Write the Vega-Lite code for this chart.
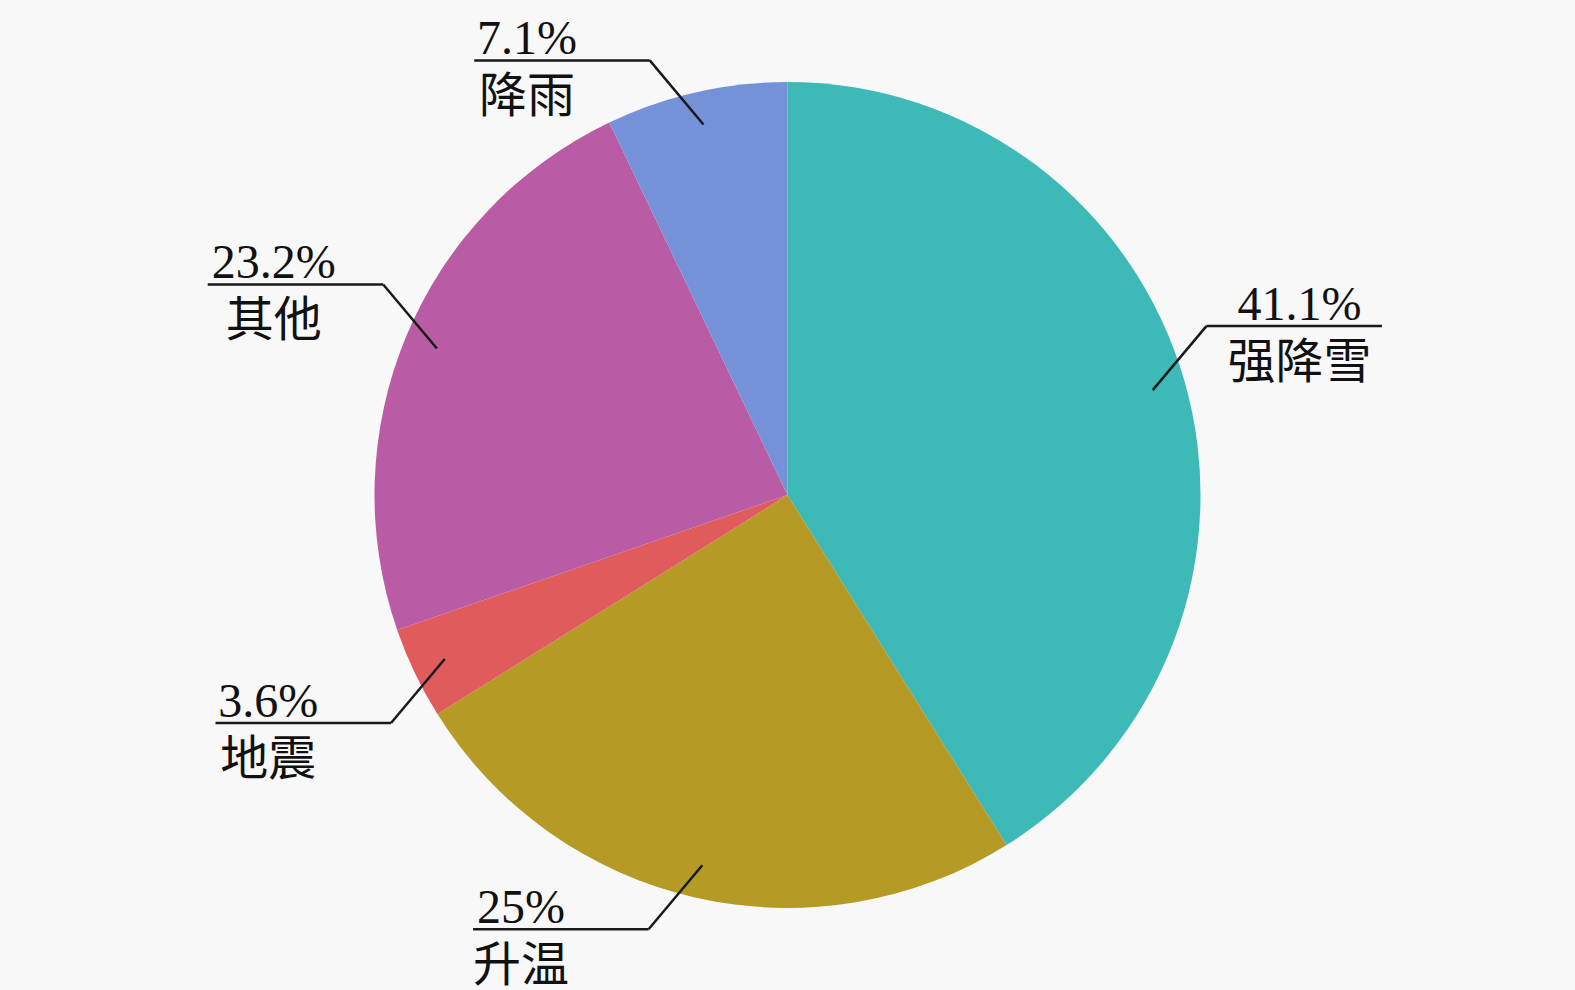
{
  "$schema": "https://vega.github.io/schema/vega-lite/v6.json",
  "width": 1575,
  "height": 990,
  "autosize": {"type": "none"},
  "padding": 0,
  "background": "#f8f8f8",
  "config": {"view": {"stroke": null}},
  "data": {
    "values": [
      {"category": "强降雪", "value": 41.1, "label": "41.1%"},
      {"category": "升温", "value": 25, "label": "25%"},
      {"category": "地震", "value": 3.6, "label": "3.6%"},
      {"category": "其他", "value": 23.2, "label": "23.2%"},
      {"category": "降雨", "value": 7.1, "label": "7.1%"}
    ]
  },
  "transform": [
    {"window": [{"op": "row_number", "as": "idx"}]},
    {"joinaggregate": [{"op": "sum", "field": "value", "as": "total"}]},
    {"window": [{"op": "sum", "field": "value", "as": "cum"}], "sort": [{"field": "idx"}], "frame": [null, 0]},
    {"calculate": "2*PI*(datum.cum - datum.value/2)/datum.total", "as": "ang"},
    {"calculate": "sin(datum.ang) >= 0 ? 1 : -1", "as": "sgx"},
    {"calculate": "cos(datum.ang) >= 0 ? 1 : -1", "as": "sgy"},
    {"calculate": "0.92*sin(datum.ang)", "as": "x0"},
    {"calculate": "0.92*cos(datum.ang)", "as": "y0"},
    {"calculate": "datum.x0 + datum.sgx*0.13", "as": "x1"},
    {"calculate": "datum.y0 + datum.sgy*0.155", "as": "y1"},
    {"calculate": "datum.x1 + datum.sgx*0.425", "as": "x2"},
    {"calculate": "max(length(datum.label)*0.55, length(datum.category))*48/2/413", "as": "hw"},
    {"calculate": "datum.sgx > 0 ? datum.x2 - 0.025 - datum.hw : datum.x2 + datum.hw", "as": "tx"}
  ],
  "layer": [
    {
      "mark": {"type": "arc", "outerRadius": 413},
      "encoding": {
        "theta": {"field": "value", "type": "quantitative", "stack": true},
        "order": {"field": "idx", "type": "quantitative"},
        "color": {
          "field": "category",
          "type": "nominal",
          "scale": {
            "domain": ["强降雪", "升温", "地震", "其他", "降雨"],
            "range": ["#3dbab8", "#b59b26", "#e05b5b", "#b95ba5", "#7592d8"]
          },
          "legend": null
        }
      }
    },
    {
      "mark": {"type": "rule", "strokeWidth": 2.5, "color": "#1a1a1a"},
      "encoding": {
        "x": {"field": "x0", "type": "quantitative", "scale": {"domain": [-1.9068, 1.9068], "nice": false, "zero": false}, "axis": null},
        "y": {"field": "y0", "type": "quantitative", "scale": {"domain": [-1.1985, 1.1985], "nice": false, "zero": false}, "axis": null},
        "x2": {"field": "x1"},
        "y2": {"field": "y1"}
      }
    },
    {
      "mark": {"type": "rule", "strokeWidth": 2.5, "color": "#1a1a1a"},
      "encoding": {
        "x": {"field": "x1", "type": "quantitative", "scale": {"domain": [-1.9068, 1.9068], "nice": false, "zero": false}, "axis": null},
        "y": {"field": "y1", "type": "quantitative", "scale": {"domain": [-1.1985, 1.1985], "nice": false, "zero": false}, "axis": null},
        "x2": {"field": "x2"},
        "y2": {"field": "y1"}
      }
    },
    {
      "mark": {"type": "text", "align": "center", "baseline": "alphabetic", "dy": -6, "fontSize": 48, "font": "Liberation Serif, Noto Sans CJK SC", "color": "#111111"},
      "encoding": {
        "x": {"field": "tx", "type": "quantitative", "scale": {"domain": [-1.9068, 1.9068], "nice": false, "zero": false}, "axis": null},
        "y": {"field": "y1", "type": "quantitative", "scale": {"domain": [-1.1985, 1.1985], "nice": false, "zero": false}, "axis": null},
        "text": {"field": "label"}
      }
    },
    {
      "mark": {"type": "text", "align": "center", "baseline": "alphabetic", "dy": 52, "fontSize": 48, "font": "Liberation Serif, Noto Sans CJK SC", "color": "#111111"},
      "encoding": {
        "x": {"field": "tx", "type": "quantitative", "scale": {"domain": [-1.9068, 1.9068], "nice": false, "zero": false}, "axis": null},
        "y": {"field": "y1", "type": "quantitative", "scale": {"domain": [-1.1985, 1.1985], "nice": false, "zero": false}, "axis": null},
        "text": {"field": "category"}
      }
    }
  ]
}
